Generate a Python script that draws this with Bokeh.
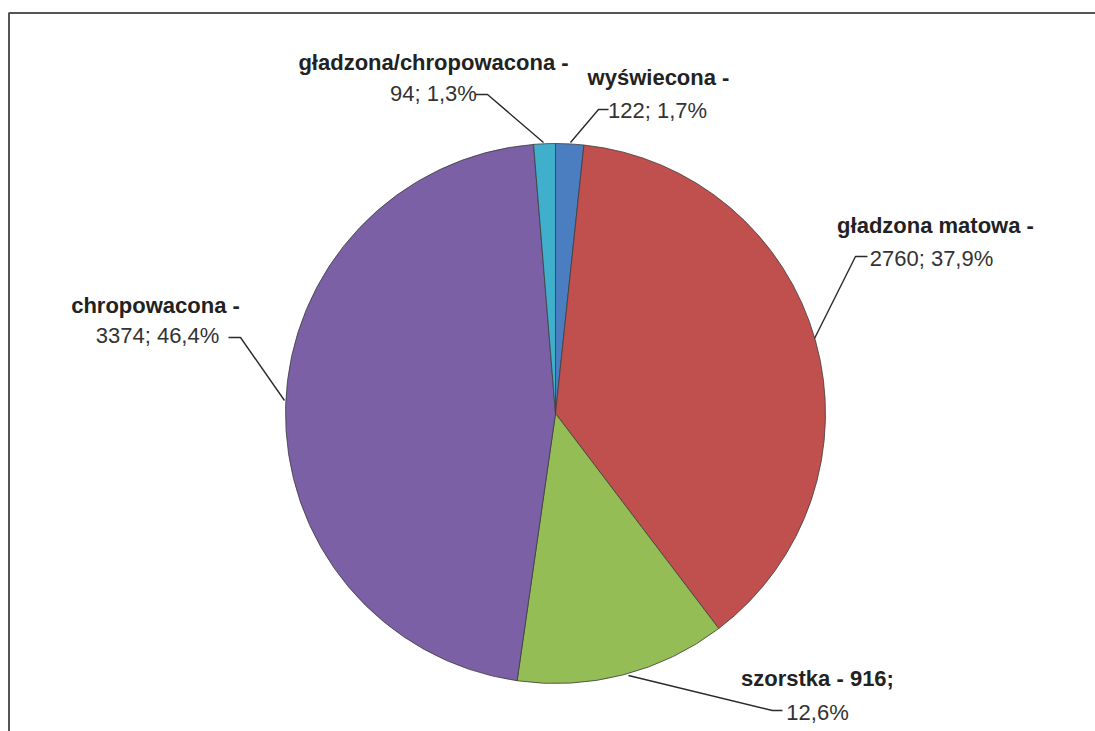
import numpy as np
from bokeh.plotting import figure
from bokeh.models import Range1d, ColumnDataSource
from bokeh.core.properties import value
from bokeh.embed import file_html
from bokeh.resources import INLINE

# ---- data (clockwise from 12 o'clock) ----
categories = ["wyświecona", "gładzona matowa", "szorstka", "chropowacona", "gładzona/chropowacona"]
counts = [122, 2760, 916, 3374, 94]
percents = ["1,7%", "37,9%", "12,6%", "46,4%", "1,3%"]
colors = ["#4A7EC0", "#C0504D", "#94BE55", "#7B60A6", "#3FAFCB"]

# label lines (szorstka label wraps after the count)
bold_lines = []
value_lines = []
for c, n, pc in zip(categories, counts, percents):
    if c == "szorstka":
        bold_lines.append(f"{c} - {n};")
        value_lines.append(pc)
    else:
        bold_lines.append(f"{c} -")
        value_lines.append(f"{n}; {pc}")

# ---- layout (page pixel coordinates, y measured from top) ----
W, H = 1095, 731
def Y(v):
    return H - v

cx, cy, r = 555, Y(413), 270

vals = np.array(counts, dtype=float)
frac = vals / vals.sum()
cum_end = np.cumsum(frac)
cum_start = cum_end - frac
start_angle = np.pi / 2 - cum_end * 2 * np.pi
end_angle = np.pi / 2 - cum_start * 2 * np.pi

p = figure(width=W, height=H, output_backend="svg", toolbar_location=None,
           x_range=Range1d(0, W), y_range=Range1d(0, H), min_border=0)
p.axis.visible = False
p.grid.visible = False
p.outline_line_color = None
p.background_fill_color = "white"
p.border_fill_color = "white"

src = ColumnDataSource(dict(start=start_angle, end=end_angle, color=colors, cat=categories))
p.wedge(x=cx, y=cy, radius=r, start_angle="start", end_angle="end", direction="anticlock",
        fill_color="color", line_color="#3c3c3c", line_width=0.8, source=src)

# frame (left and top edges visible)
p.line(x=[8.5, 8.5, W], y=[Y(H), Y(12.5), Y(12.5)], line_color="#555555", line_width=2)

# label anchor positions: (bold center x, bold baseline y, value center x, value baseline y)
label_pos = {
    "wyświecona": (658, 77, 657, 110),
    "gładzona matowa": (935, 225, 931, 258),
    "szorstka": (817, 678, 817, 712),
    "chropowacona": (155, 305, 157, 335),
    "gładzona/chropowacona": (433, 62, 433, 93),
}
leaders = {
    "wyświecona": [(608, 109), (598, 109), (570, 142)],
    "gładzona matowa": [(867, 256), (855, 256), (814, 338)],
    "szorstka": [(782, 710), (772, 710), (628, 675)],
    "chropowacona": [(228, 337), (240, 337), (284, 400)],
    "gładzona/chropowacona": [(475, 94), (487, 94), (543, 142)],
}

for c, bl, vl in zip(categories, bold_lines, value_lines):
    bx, by, vx, vy = label_pos[c]
    p.text(x=[bx], y=[Y(by)], text=[bl], text_font=value("Liberation Sans"),
           text_font_size="22px", text_font_style="bold", text_color="#222222",
           text_align="center", text_baseline="alphabetic")
    p.text(x=[vx], y=[Y(vy)], text=[vl], text_font=value("Liberation Sans"),
           text_font_size="22px", text_color="#333333",
           text_align="center", text_baseline="alphabetic")
    pts = leaders[c]
    p.line(x=[q[0] for q in pts], y=[Y(q[1]) for q in pts], line_color="#2a2a2a", line_width=1.4)

open("out.html", "w").write(file_html(p, INLINE))
